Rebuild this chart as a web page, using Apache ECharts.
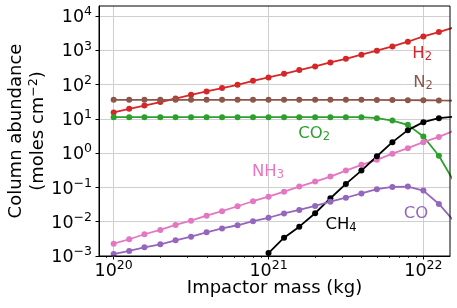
<!DOCTYPE html>
<html><head><meta charset="utf-8">
<script src="https://cdn.jsdelivr.net/npm/echarts@6/dist/echarts.min.js"></script>
<style>html,body{margin:0;padding:0;background:#fff}#c{width:457px;height:308px}</style>
</head><body><div id="c"></div>
<script>
// Impactor mass (kg)
const mass = [1.00e20, 1.26e20, 1.58e20, 2.00e20, 2.51e20, 3.16e20, 3.98e20, 5.01e20, 6.31e20, 7.94e20,
  1.00e21, 1.26e21, 1.58e21, 2.00e21, 2.51e21, 3.16e21, 3.98e21, 5.01e21, 6.31e21, 7.94e21,
  1.00e22, 1.26e22, 1.58e22];
// Column abundance (moles cm^-2)
const H2 = [15.4, 19.7, 24.6, 30.9, 39.4, 50.5, 63.1, 79.3, 99.1, 129, 162, 207, 266, 339, 444, 569, 745, 975, 1303, 1786, 2553, 3428, 4677];
const N2 = [36, 36, 36, 36, 36, 36, 36, 36, 36, 36, 36, 36, 36, 36, 36, 36, 36, 35.8, 35.5, 35.2, 35, 34.6, 34.3];
const CO2 = [11.2, 11.2, 11.2, 11.2, 11.2, 11.2, 11.2, 11.2, 11.2, 11.2, 11.2, 11.2, 11.2, 11.2, 11.2, 11.2, 11.2, 10.5, 8.97, 6.71, 3.06, 0.84, 0.145];
const NH3 = [0.00229, 0.00308, 0.00431, 0.00575, 0.00805, 0.01074, 0.01503, 0.02037, 0.02831, 0.03963, 0.0540, 0.0755, 0.1059, 0.1483, 0.2075, 0.310, 0.456, 0.638, 0.968, 1.40, 2.10, 2.99, 4.58];
const CO = [0.00114, 0.00140, 0.00179, 0.00220, 0.00288, 0.00366, 0.00492, 0.00635, 0.00789, 0.01033, 0.01306, 0.01746, 0.02208, 0.0289, 0.0383, 0.0501, 0.0670, 0.0889, 0.1038, 0.106, 0.0809, 0.0330, 0.01026];
const CH4 = [null, null, null, null, null, null, null, null, null, null, 0.00122, 0.00343, 0.00718, 0.01766, 0.0485, 0.1268, 0.310, 0.815, 2.10, 4.70, 8.05, 10.5, 11.6];
// Tick values
const xMajorTicks = [1e20, 1e21, 1e22];
const xMinorTicks = [9e19, 2e20, 3e20, 4e20, 5e20, 6e20, 7e20, 8e20, 9e20, 2e21, 3e21, 4e21, 5e21, 6e21, 7e21, 8e21, 9e21];
const yMajorTicks = [1e-3, 1e-2, 1e-1, 1e0, 1e1, 1e2, 1e3, 1e4];

const FONT = 'DejaVu Sans';
const chart = echarts.init(document.getElementById('c'), null, {renderer: 'canvas'});

function expLabel(v) {
  const e = Math.round(Math.log10(v));
  return '{b|10}{s|' + (e < 0 ? '\u2212' + (-e) : e) + '}';
}
const tickRich = {
  b: {fontSize: 17.5, fontFamily: FONT, color: '#000', lineHeight: 21, verticalAlign: 'bottom'},
  s: {fontSize: 12.5, fontFamily: FONT, color: '#000', lineHeight: 21, verticalAlign: 'top'}
};
const subRich = (color) => ({
  b: {fontSize: 16.5, fontFamily: FONT, color: color, lineHeight: 18, verticalAlign: 'top'},
  s: {fontSize: 11.5, fontFamily: FONT, color: color, lineHeight: 18, verticalAlign: 'bottom', padding: [7, 0, 0, 0]}
});
function label(text, color, x, y) {
  return {
    symbol: 'circle', symbolSize: 0, silent: true,
    label: {show: true, position: 'inside', formatter: text, rich: subRich(color), color: color},
    data: [{coord: [x, y]}]
  };
}
function zip(ys) { return mass.map((m, i) => [m, ys[i]]); }
function series(name, ys, color, mp) {
  return {
    name: name, type: 'line', data: zip(ys), xAxisIndex: 0, yAxisIndex: 0,
    symbol: 'circle', symbolSize: 6, showSymbol: true,
    lineStyle: {color: color, width: 1.8}, itemStyle: {color: color},
    clip: true, connectNulls: false, animation: false, z: 3,
    markPoint: mp
  };
}

const xMin = 8.04e19, xMax = 1.486e22, yMin = 1e-3, yMax = 19700;

chart.setOption({
  animation: false,
  backgroundColor: '#fff',
  grid: {left: 99, right: 7, top: 6, bottom: 52, containLabel: false, outerBoundsMode: 'none',
    show: true, borderColor: '#000', borderWidth: 1, backgroundColor: 'transparent', z: 10},
  xAxis: [{
    type: 'log', min: xMin, max: xMax, position: 'bottom',
    name: 'Impactor mass (kg)', nameLocation: 'middle', nameGap: 23, nameMoveOverlap: false,
    nameTextStyle: {fontSize: 18, fontFamily: FONT, color: '#000'},
    axisLine: {show: true, lineStyle: {color: '#000', width: 1}},
    axisTick: {show: true, length: 3.5, lineStyle: {color: '#000'}, customValues: xMajorTicks},
    axisLabel: {show: true, margin: 3, formatter: expLabel, rich: tickRich, customValues: xMajorTicks},
    splitLine: {show: true, lineStyle: {color: '#cfcfcf', width: 1}},
    minorTick: {show: false}
  }, {
    type: 'log', min: xMin, max: xMax, position: 'bottom', gridIndex: 0,
    axisLine: {show: false},
    axisTick: {show: true, length: 2, lineStyle: {color: '#000', width: 0.8}, customValues: xMinorTicks},
    axisLabel: {show: false},
    splitLine: {show: false}
  }],
  yAxis: [{
    type: 'log', min: yMin, max: yMax, splitNumber: 8,
    name: 'Column abundance\n(moles cm{s|\u22122})', nameLocation: 'middle', nameGap: 50, nameRotate: 90, nameMoveOverlap: false,
    nameTextStyle: {fontSize: 18, fontFamily: FONT, color: '#000', lineHeight: 21.5,
      rich: {s: {fontSize: 12.5, fontFamily: FONT, color: '#000', verticalAlign: 'top', lineHeight: 21.5}}},
    axisLine: {show: true, lineStyle: {color: '#000', width: 1}},
    axisTick: {show: true, length: 3.5, lineStyle: {color: '#000'}, customValues: yMajorTicks},
    axisLabel: {show: true, margin: 7, formatter: expLabel, rich: tickRich, customValues: yMajorTicks},
    splitLine: {show: true, lineStyle: {color: '#cfcfcf', width: 1}}
  }],
  series: [
    series('H2', H2, '#d62728', label('{b|H}{s|2}', '#d62728', 9.82e21, 796)),
    series('N2', N2, '#8c564b', label('{b|N}{s|2}', '#8c564b', 9.95e21, 113)),
    series('CO2', CO2, '#2ca02c', label('{b|CO}{s|2}', '#2ca02c', 1.968e21, 3.66)),
    series('NH3', NH3, '#e377c2', label('{b|NH}{s|3}', '#e377c2', 9.93e20, 0.284)),
    series('CH4', CH4, '#000000', label('{b|CH}{s|4}', '#000000', 2.94e21, 0.00805)),
    series('CO', CO, '#9467bd', label('{b|CO}', '#9467bd', 8.97e21, 0.01687))
  ]
});
</script>
</body></html>
